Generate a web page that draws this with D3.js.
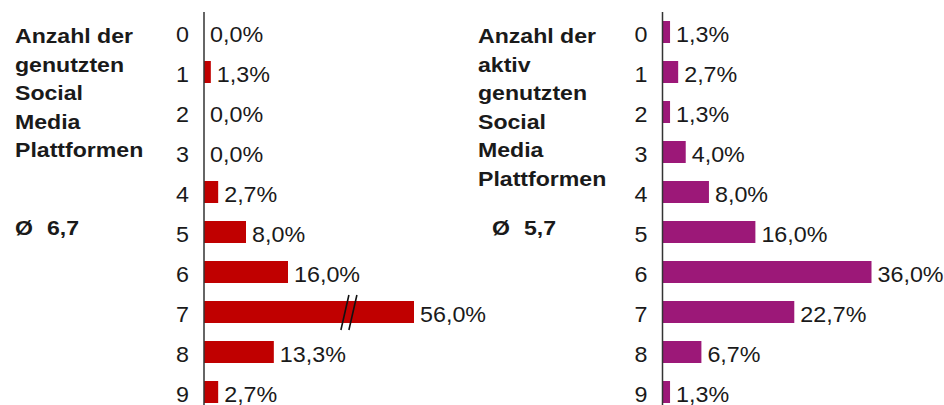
<!DOCTYPE html>
<html>
<head>
<meta charset="utf-8">
<script src="https://cdn.jsdelivr.net/npm/d3@7"></script>
<style>
  body { margin: 0; background: #fff; }
  svg { display: block; font-family: "Liberation Sans", Arial, sans-serif; }
</style>
</head>
<body>
<div id="chart"></div>
<script>
// categories (number of platforms)
const cats = ["0", "1", "2", "3", "4", "5", "6", "7", "8", "9"];
// share of respondents, %
const usedPct   = [0, 1.3, 0, 0, 2.7, 8.0, 16.0, 56.0, 13.3, 2.7];
const activePct = [1.3, 2.7, 1.3, 4.0, 8.0, 16.0, 36.0, 22.7, 6.7, 1.3];
// titles and averages
const usedTitle   = ["Anzahl der", "genutzten", "Social", "Media", "Plattformen"];
const activeTitle = ["Anzahl der", "aktiv", "genutzten", "Social", "Media", "Plattformen"];
const usedAvg = "6,7";
const activeAvg = "5,7";

const width = 944, height = 405;

const svg = d3.select("#chart").append("svg")
    .attr("width", width)
    .attr("height", height);

const fmt = d => d.toFixed(1).replace(".", ",") + "%";

const y = d3.scaleBand()
    .domain(cats)
    .range([12, 412])
    .paddingInner(0.45)
    .paddingOuter(0.225);

// glyphs in the picture are a little wider than the font, so stretch x
function txt(g, x, yy, s, opts) {
  opts = opts || {};
  const sx = opts.bold ? 1.1 : 1.06;
  return g.append("text")
      .attr("transform", `translate(${x},${yy}) scale(${sx},1)`)
      .attr("text-anchor", opts.anchor || "start")
      .attr("font-size", opts.bold ? 21 : 22)
      .attr("font-weight", opts.bold ? "bold" : "normal")
      .attr("fill", "#1a1a1a")
      .text(s);
}

function panel(cfg) {
  const g = svg.append("g");
  const x = d3.scaleLinear()
      .domain([0, cfg.cap])
      .range([cfg.x0, cfg.x0 + cfg.len])
      .clamp(true);
  const mid = c => y(c) + y.bandwidth() / 2;

  // title block
  cfg.title.forEach((t, i) => txt(g, cfg.tx, 43 + i * 28.6, t, {bold: true}));
  txt(g, cfg.ax, 235, "Ø", {bold: true});
  txt(g, cfg.ax + 32, 235, cfg.avg, {bold: true});

  // bars
  g.selectAll("rect.bar")
    .data(cfg.values)
    .join("rect")
      .attr("class", "bar")
      .attr("x", cfg.x0)
      .attr("y", (d, i) => y(cats[i]))
      .attr("width", d => x(d) - cfg.x0)
      .attr("height", y.bandwidth())
      .attr("fill", cfg.color);

  // axis break on truncated bars
  cfg.values.forEach((d, i) => {
    if (d <= cfg.cap) return;
    const bx = cfg.x0 + (x(d) - cfg.x0) * 0.69;
    const top = y(cats[i]) - 6, bot = y(cats[i]) + y.bandwidth() + 7;
    [-4, 4].forEach(off => {
      g.append("line")
        .attr("x1", bx + off - 4).attr("y1", bot)
        .attr("x2", bx + off + 4).attr("y2", top)
        .attr("stroke", "#111").attr("stroke-width", 1.6);
    });
  });

  // value labels
  cfg.values.forEach((d, i) => {
    txt(g, x(d) + 6, mid(cats[i]) + 9.5, fmt(d));
  });

  // category labels
  cats.forEach(c => {
    txt(g, cfg.x0 - 15, mid(c) + 9.5, c, {anchor: "end"});
  });

  // vertical axis line
  g.append("line")
    .attr("x1", cfg.x0).attr("x2", cfg.x0)
    .attr("y1", 12).attr("y2", height)
    .attr("stroke", "#333").attr("stroke-width", 1.5);
}

panel({values: usedPct, title: usedTitle, avg: usedAvg,
       color: "#C00000", cap: 40, x0: 204, len: 210, tx: 15, ax: 15});
panel({values: activePct, title: activeTitle, avg: activeAvg,
       color: "#9C1878", cap: 36, x0: 662.5, len: 209, tx: 478, ax: 492});
</script>
</body>
</html>
